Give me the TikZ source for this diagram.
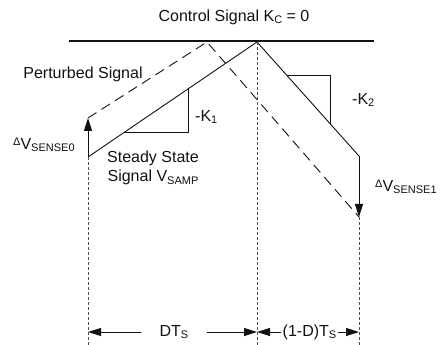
\documentclass[tikz,border=0pt]{standalone}
\usepackage{fontspec}
\setmainfont{Liberation Sans}
\usetikzlibrary{arrows.meta,positioning}
\definecolor{ink}{HTML}{111111}
\definecolor{guidegray}{HTML}{4D4D4D}
\newcommand{\lowsub}[1]{\raisebox{-2.5pt}{\fontsize{11}{11}\selectfont #1}}
\newcommand{\dtri}{\raisebox{4pt}{\fontsize{11}{11}\selectfont Δ}}

\begin{document}
\begin{tikzpicture}[x=1pt, y=-1pt, >={Triangle[length=13pt,width=8pt]},
  lbl/.style={font=\fontsize{16}{19}\selectfont, inner sep=1pt, ink},
  sig/.style={ink, line width=0.9pt},
  pert/.style={ink, line width=0.9pt, dash pattern=on 10pt off 6pt},
  guide/.style={guidegray, line width=0.9pt, dash pattern=on 3pt off 2pt}]
  \useasboundingbox (0,0) rectangle (440,345);
  % control level
  \node[lbl] (ctrl) at (234,17) {Control Signal K\lowsub{C} = 0};
  \coordinate (barL) at (69,41);
  \coordinate (barR) at (374,41);
  \draw[ink, line width=2pt] (barL) -- (barR);
  % steady state and perturbed waveforms
  \coordinate (ssA) at (88,157);
  \coordinate (ssP) at (257,42);
  \coordinate (ssB) at (359,156);
  \coordinate (ptA) at (88,118);
  \coordinate (ptP) at (207,42);
  \coordinate (ptB) at (359,217);
  \draw[sig] (ssA) -- (ssP) -- (ssB);
  \draw[pert] (ptA) -- (ptP) -- (ptB);
  \draw[sig, ->] (ssA) -- (ptA);
  \draw[sig, ->] (ssB) -- (ptB);
  % slopes
  \draw[sig, line width=0.7pt] (125,132) -- (188,132) -- (188,89);
  \draw[sig, line width=0.7pt] (287,75) -- (330,75) -- (330,124);
  \node[lbl, anchor=west] (k1) at (194,117) {-K\lowsub{1}};
  \node[lbl, anchor=west] (k2) at (351,100) {-K\lowsub{2}};
  % labels
  \node[lbl] (pert) at (83,74) {Perturbed Signal};
  \node[lbl, anchor=west] (dv0) at (12,145) {\dtri V\lowsub{SENSE0}};
  \node[lbl, anchor=west] (dv1) at (374,187) {\dtri V\lowsub{SENSE1}};
  \node[lbl, align=center] (ss) at (153,168) {Steady State\\Signal V\lowsub{SAMP}};
  % time guides
  \coordinate (gL) at (88,345);
  \coordinate (gM) at (257,345);
  \coordinate (gR) at (359,345);
  \draw[guide] (ssA) -- (gL);
  \draw[guide] (ssP) -- (gM);
  \draw[guide] (ptB) -- (gR);
  \coordinate (dL) at (88,332);
  \coordinate (dM) at (257,332);
  \coordinate (dR) at (359,332);
  \node[lbl, inner xsep=18pt] (dt) at (174,332) {DT\lowsub{S}};
  \node[lbl, inner xsep=2pt] (ddt) at (309.5,332) {(1-D)T\lowsub{S}};
  \draw[sig, ->] (dt) -- (dL);
  \draw[sig, ->] (dt) -- (dM);
  \draw[sig, ->] (ddt) -- (dM);
  \draw[sig, ->] (ddt) -- (dR);
\end{tikzpicture}
\end{document}
